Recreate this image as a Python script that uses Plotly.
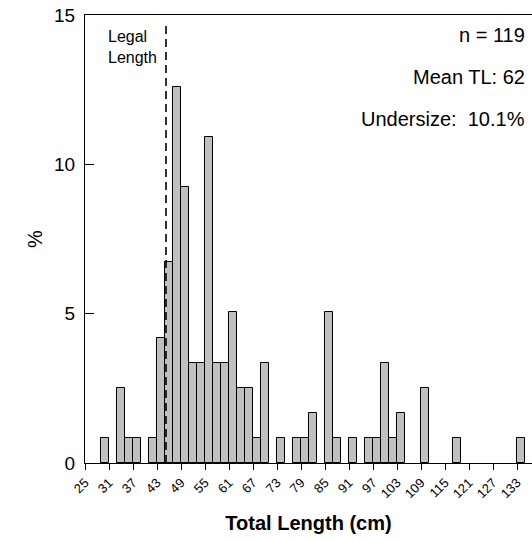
import plotly.graph_objects as go

# Length-frequency data: 2 cm bins, labelled by bin centre
bin_centres = [30, 34, 36, 38, 42, 44, 46, 48, 50, 52, 54, 56, 58, 60, 62, 64, 66, 68, 70,
               74, 78, 80, 82, 86, 88, 92, 96, 98, 100, 102, 104, 110, 118, 134]
counts = [1, 3, 1, 1, 1, 5, 8, 15, 11, 4, 4, 13, 4, 4, 6, 3, 3, 1, 4,
          1, 1, 1, 2, 6, 1, 1, 1, 1, 4, 1, 2, 3, 1, 1]
bin_width = 2
legal_length = 45.25
x_tick_vals = list(range(25, 134, 6))
y_tick_vals = [0, 5, 10, 15]

n_total = sum(counts)
percent = [c / n_total * 100 for c in counts]

font = "Liberation Sans, Arial, sans-serif"

fig = go.Figure()
fig.add_trace(go.Bar(
    x=bin_centres, y=percent, width=bin_width,
    marker=dict(color="#c0c0c0", line=dict(color="#000000", width=1)),
    showlegend=False, hoverinfo="skip",
))

# Minimum legal length marker
fig.add_shape(type="line", xref="x", yref="y", x0=legal_length, x1=legal_length,
              y0=0, y1=14.65, line=dict(color="black", width=1.6, dash="8px,5px"))

fig.add_annotation(x=legal_length, y=1, xref="x", yref="paper", xanchor="right", yanchor="top",
                   xshift=-7, yshift=-11, text="Legal<br>Length", showarrow=False, align="left",
                   font=dict(family=font, size=16, color="black"))

stats = ["n = 119", "Mean TL: 62", "Undersize:&nbsp; 10.1%"]
for i, s in enumerate(stats):
    fig.add_annotation(x=1, y=1, xref="paper", yref="paper", xanchor="right", yanchor="middle",
                       xshift=-5, yshift=-20 - 42 * i, text=s, showarrow=False,
                       font=dict(family=font, size=20, color="black"))

fig.update_layout(
    width=532, height=541,
    margin=dict(l=85, r=0, t=15, b=78),
    plot_bgcolor="white", paper_bgcolor="white",
    bargap=0,
    font=dict(family=font, color="black"),
    xaxis=dict(
        range=[25, 136.75], tickvals=x_tick_vals, ticktext=[str(v) for v in x_tick_vals],
        tickangle=-45, ticks="outside", ticklen=6, tickcolor="black",
        showline=True, linecolor="black", linewidth=1, mirror=True,
        showgrid=False, zeroline=False, tickfont=dict(size=13),
        title=dict(text="<b>Total Length (cm)</b>", font=dict(size=20), standoff=15),
    ),
    yaxis=dict(
        range=[0, 15], tickvals=y_tick_vals, ticks="inside", ticklen=9, tickcolor="black",
        showline=True, linecolor="black", linewidth=1, mirror=False,
        showgrid=False, zeroline=False, tickfont=dict(size=19), ticklabelstandoff=5,
        title=dict(text="%", font=dict(size=20), standoff=6),
    ),
)

fig.write_html("out.html")
